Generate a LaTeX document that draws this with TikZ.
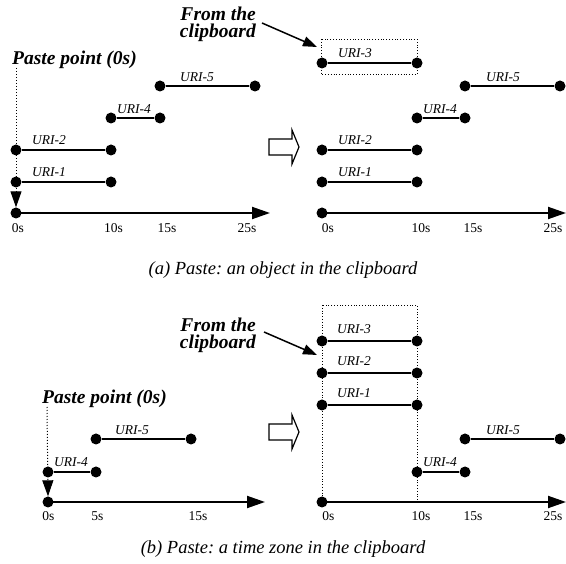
\documentclass[tikz,border=0pt]{standalone}
\usepackage{fontspec}
\setmainfont{Liberation Serif}
\usetikzlibrary{arrows.meta}
\frenchspacing
\begin{document}
\begin{tikzpicture}[x=1pt,y=-1pt,
 dot/.style={circle,fill=black,inner sep=0pt,minimum size=11pt},
 seg/.style={line width=2pt},
 axisline/.style={line width=2pt,-{Triangle[length=18pt,width=12pt]}},
 uri/.style={anchor=base west,inner sep=0pt,font=\itshape\fontsize{13.5}{13.5}\selectfont},
 ticklab/.style={anchor=base,inner sep=0pt,font=\fontsize{13.5}{13.5}\selectfont},
 boldlab/.style={anchor=base west,inner sep=0pt,font=\bfseries\itshape\fontsize{19.5}{19.5}\selectfont},
 fromlab/.style={anchor=north east,align=right,inner sep=0pt,font=\bfseries\itshape\fontsize{19.5}{17}\selectfont},
 pastearrow/.style={dotted,line width=1pt,-{Triangle[length=16pt,width=11pt]}},
 fromarrow/.style={line width=1.5pt,-{Triangle[length=14pt,width=10pt]}},
 clipbox/.style={dotted,line width=0.8pt},
 hollow/.style={draw,line width=1.2pt,fill=white},
 capt/.style={anchor=base,inner sep=0pt,font=\itshape\fontsize{18.5}{18.5}\selectfont}]
\useasboundingbox (0,0) rectangle (566,564);

% ================= (a) left =================
\node[dot] (aL0) at (16,213) {};
\coordinate (aLend) at (270,213);
\draw[axisline] (aL0.center) -- (aLend);
\node[ticklab] (aLt0) at (18,233) {0s};
\node[ticklab] (aLt10) at (113.5,233) {10s};
\node[ticklab] (aLt15) at (167,233) {15s};
\node[ticklab] (aLt25) at (247,233) {25s};

\node[dot] (aL1a) at (16,182) {};
\node[dot] (aL1b) at (111,182) {};
\draw[seg] (aL1a) -- (aL1b);
\node[uri] (aL1l) at (32,177) {URI-1};

\node[dot] (aL2a) at (16,150) {};
\node[dot] (aL2b) at (111,150) {};
\draw[seg] (aL2a) -- (aL2b);
\node[uri] (aL2l) at (32,145) {URI-2};

\node[dot] (aL4a) at (111,118) {};
\node[dot] (aL4b) at (160,118) {};
\draw[seg] (aL4a) -- (aL4b);
\node[uri] (aL4l) at (117,114) {URI-4};

\node[dot] (aL5a) at (160,86) {};
\node[dot] (aL5b) at (255,86) {};
\draw[seg] (aL5a) -- (aL5b);
\node[uri] (aL5l) at (180,82) {URI-5};

\node[boldlab] (pasteA) at (12,65) {Paste point (0s)};
\coordinate (pasteAtop) at (16,68);
\draw[pastearrow] (pasteAtop) -- (aL0.north);

\node[fromlab] (fromA) at (256,6.5) {From the\\clipboard};
\coordinate (fromAs) at (262,23);
\coordinate (fromAe) at (317,47);
\draw[fromarrow] (fromAs) -- (fromAe);

% hollow arrow (a)
\draw[hollow] (269,139) -- (292,139) -- (292,130) -- (299,147) -- (292,164) -- (292,155) -- (269,155) -- cycle;

% ================= (a) right =================
\node[dot] (aR0) at (322,213) {};
\coordinate (aRend) at (566,213);
\draw[axisline] (aR0.center) -- (aRend);
\node[ticklab] (aRt0) at (328,233) {0s};
\node[ticklab] (aRt10) at (421,233) {10s};
\node[ticklab] (aRt15) at (473,233) {15s};
\node[ticklab] (aRt25) at (553,233) {25s};

\node[dot] (aR1a) at (322,182) {};
\node[dot] (aR1b) at (417,182) {};
\draw[seg] (aR1a) -- (aR1b);
\node[uri] (aR1l) at (338,177) {URI-1};

\node[dot] (aR2a) at (322,150) {};
\node[dot] (aR2b) at (417,150) {};
\draw[seg] (aR2a) -- (aR2b);
\node[uri] (aR2l) at (338,145) {URI-2};

\node[dot] (aR4a) at (417,118) {};
\node[dot] (aR4b) at (465,118) {};
\draw[seg] (aR4a) -- (aR4b);
\node[uri] (aR4l) at (423,114) {URI-4};

\node[dot] (aR5a) at (465,86) {};
\node[dot] (aR5b) at (560,86) {};
\draw[seg] (aR5a) -- (aR5b);
\node[uri] (aR5l) at (486,82) {URI-5};

\node[dot] (aR3a) at (322,63) {};
\node[dot] (aR3b) at (417,63) {};
\draw[seg] (aR3a) -- (aR3b);
\node[uri] (aR3l) at (338,58) {URI-3};
\draw[clipbox] (321,39) rectangle (417,74);

\node[capt] (captA) at (283,275) {(a) Paste: an object in the clipboard};

% ================= (b) left =================
\node[dot] (bL0) at (48,502) {};
\coordinate (bLend) at (265,502);
\draw[axisline] (bL0.center) -- (bLend);
\node[ticklab] (bLt0) at (48.5,521) {0s};
\node[ticklab] (bLt5) at (97.5,521) {5s};
\node[ticklab] (bLt15) at (198,521) {15s};

\node[dot] (bL4a) at (48,472) {};
\node[dot] (bL4b) at (96,472) {};
\draw[seg] (bL4a) -- (bL4b);
\node[uri] (bL4l) at (54,467) {URI-4};

\node[dot] (bL5a) at (96,439) {};
\node[dot] (bL5b) at (191,439) {};
\draw[seg] (bL5a) -- (bL5b);
\node[uri] (bL5l) at (115,435) {URI-5};

\node[boldlab] (pasteB) at (42,404) {Paste point (0s)};
\coordinate (pasteBtop) at (47,407);
\draw[pastearrow] (pasteBtop) -- (bL0.north);

\node[fromlab] (fromB) at (256,317.5) {From the\\clipboard};
\coordinate (fromBs) at (264,332);
\coordinate (fromBe) at (317,355);
\draw[fromarrow] (fromBs) -- (fromBe);

% hollow arrow (b)
\draw[hollow] (269,424) -- (292,424) -- (292,415) -- (299,432) -- (292,449) -- (292,440) -- (269,440) -- cycle;

% ================= (b) right =================
\draw[clipbox] (322,305) rectangle (417,502);
\node[dot] (bR0) at (322,502) {};
\coordinate (bRend) at (566,502);
\draw[axisline] (bR0.center) -- (bRend);
\node[ticklab] (bRt0) at (328.5,521) {0s};
\node[ticklab] (bRt10) at (421,521) {10s};
\node[ticklab] (bRt15) at (473,521) {15s};
\node[ticklab] (bRt25) at (553,521) {25s};

\node[dot] (bR3a) at (322,341) {};
\node[dot] (bR3b) at (417,341) {};
\draw[seg] (bR3a) -- (bR3b);
\node[uri] (bR3l) at (337,334) {URI-3};

\node[dot] (bR2a) at (322,373) {};
\node[dot] (bR2b) at (417,373) {};
\draw[seg] (bR2a) -- (bR2b);
\node[uri] (bR2l) at (337,366) {URI-2};

\node[dot] (bR1a) at (322,405) {};
\node[dot] (bR1b) at (417,405) {};
\draw[seg] (bR1a) -- (bR1b);
\node[uri] (bR1l) at (337,398) {URI-1};

\node[dot] (bR4a) at (417,472) {};
\node[dot] (bR4b) at (465,472) {};
\draw[seg] (bR4a) -- (bR4b);
\node[uri] (bR4l) at (423,467) {URI-4};

\node[dot] (bR5a) at (465,439) {};
\node[dot] (bR5b) at (560,439) {};
\draw[seg] (bR5a) -- (bR5b);
\node[uri] (bR5l) at (486,435) {URI-5};

\node[capt] (captB) at (283,554) {(b) Paste: a time zone in the clipboard};
\end{tikzpicture}
\end{document}
